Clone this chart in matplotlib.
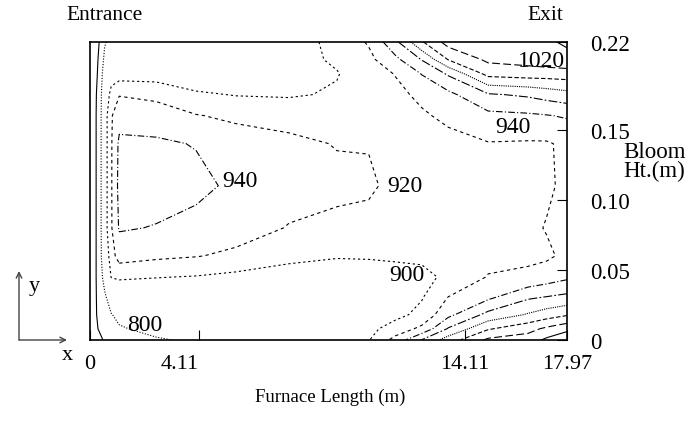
import numpy as np
import matplotlib.pyplot as plt

plt.rcParams['font.family'] = ['Liberation Serif', 'DejaVu Serif']

# grid of the temperature table (m)
length_m = [0, 0.3, 0.55, 0.8, 1.1, 2.5, 4.0, 5.5, 7.5, 9.3, 10.5, 11.5,
            12.5, 13.5, 15.0, 16.5, 17.2, 17.97]
height_m = [0, 0.008, 0.018, 0.03, 0.045, 0.06, 0.08, 0.11, 0.14, 0.16,
            0.175, 0.19, 0.2, 0.2125]

temp = [
    [640, 670, 710, 730, 760, 790, 815, 835, 860, 876, 899, 927, 961, 990, 1024, 1030, 1044, 1058],
    [640, 700, 740, 760, 790, 830, 840, 850, 868, 880, 895, 908, 925, 962, 998, 1013, 1024, 1034],
    [640, 712, 760, 795, 825, 860, 860, 864, 876, 883, 893, 895, 905, 935, 966, 982, 990, 998],
    [640, 715, 780, 850, 870, 880, 880, 878, 885, 887, 893, 893, 899, 921, 937, 958, 962, 966],
    [640, 718, 840, 902, 905, 901, 899, 895, 895, 893, 895, 895, 896, 903, 921, 923, 929, 936],
    [640, 718, 880, 912, 928, 924, 921, 916, 903, 901, 901, 902, 903, 904, 914, 917, 917, 924],
    [640, 718, 889, 918, 942, 939, 934, 929, 919, 915, 914, 911, 908, 908, 911, 916, 921, 925],
    [640, 718, 889, 918, 946, 949, 945, 936, 928, 925, 923, 915, 912, 911, 912, 915, 917, 924],
    [640, 718, 889, 918, 944, 943, 939, 930, 925, 919, 919, 914, 914, 913, 919, 918, 918, 924],
    [640, 718, 889, 918, 932, 930, 921, 916, 912, 910, 912, 915, 917, 925, 935, 937, 939, 942],
    [640, 715, 880, 908, 919, 915, 903, 899, 898, 902, 908, 914, 925, 935, 958, 963, 968, 973],
    [640, 705, 850, 888, 890, 890, 885, 886, 893, 899, 910, 921, 941, 963, 1007, 1010, 1010, 1011],
    [640, 700, 820, 865, 870, 880, 878, 880, 892, 903, 915, 935, 961, 1001, 1024, 1028, 1032, 1036],
    [640, 680, 790, 840, 850, 872, 872, 875, 890, 906, 922, 955, 998, 1028, 1032, 1034, 1038, 1042],
]

levels = [700, 800, 900, 920, 940, 960, 980, 1000, 1020, 1040]
styles = ['-', (0, (1, 1.5)), (0, (2, 2.5)), (0, (3, 3)), (0, (6, 2, 1, 2)),
          (0, (8, 2, 1.5, 2)), (0, (1, 1)), (0, (4, 2)), (0, (7, 3)), '-']

# isotherm labels
lab_text = ['1020', '940', '940', '920', '900', '800']
lab_x = [17.0, 15.93, 5.65, 11.86, 11.94, 2.07]
lab_y = [0.199, 0.152, 0.1136, 0.11, 0.047, 0.0114]

x_ticks = [0, 4.11, 14.11, 17.97]
x_tick_labels = ['0', '4.11', '14.11', '17.97']
y_ticks = [0, 0.05, 0.10, 0.15, 0.2125]
y_tick_labels = ['0', '0.05', '0.10', '0.15', '0.22']

fig = plt.figure(figsize=(6.96, 4.35), dpi=100)
ax = fig.add_axes([90/696, 1-341/435, 477/696, 298/435])

X, Y = np.meshgrid(length_m, height_m)
T = np.array(temp, dtype=float)
for lev, ls in zip(levels, styles):
    ax.contour(X, Y, T, levels=[lev], colors='k', linewidths=0.8,
               linestyles=[ls])

for s, x, y in zip(lab_text, lab_x, lab_y):
    ax.text(x, y, s, fontsize=17, ha='center', va='center')

ax.set_xlim(0, 17.97)
ax.set_ylim(0, 0.2125)
ax.set_xticks(x_ticks)
ax.set_xticklabels(x_tick_labels, fontsize=16)
ax.get_xticklabels()[1].set_ha('right')
ax.yaxis.tick_right()
ax.set_yticks(y_ticks)
ax.set_yticklabels(y_tick_labels, fontsize=16.5)
ax.tick_params(axis='x', direction='in', length=7, pad=10)
ax.tick_params(axis='y', direction='in', length=7, pad=17)
for sp in ax.spines.values():
    sp.set_linewidth(1.2)

fig.text(623/696, 1-162/435, 'Bloom\nHt.(m)', fontsize=16.5, ha='left',
         va='center', linespacing=0.9)
fig.text(105/696, 1-16/435, 'Entrance', fontsize=15.5, ha='center', va='center')
fig.text(545/696, 1-16/435, 'Exit', fontsize=15.5, ha='center', va='center')
fig.text(330/696, 1-397/435, 'Furnace Length (m)', fontsize=13.5,
         ha='center', va='center')

# little x-y direction sign at lower left
arr = dict(arrowstyle='->', color='#444444', lw=1.0, shrinkA=0, shrinkB=0)
ax.annotate('', xy=(19, 435-272), xytext=(19, 94), xycoords='figure pixels',
            textcoords='figure pixels', arrowprops=arr)
ax.annotate('', xy=(67, 94), xytext=(19, 94), xycoords='figure pixels',
            textcoords='figure pixels', arrowprops=arr)
fig.text(34/696, 1-286/435, 'y', fontsize=16, ha='center', va='center')
fig.text(67/696, 1-356/435, 'x', fontsize=16, ha='center', va='center')

fig.savefig('out.png', dpi=100)
